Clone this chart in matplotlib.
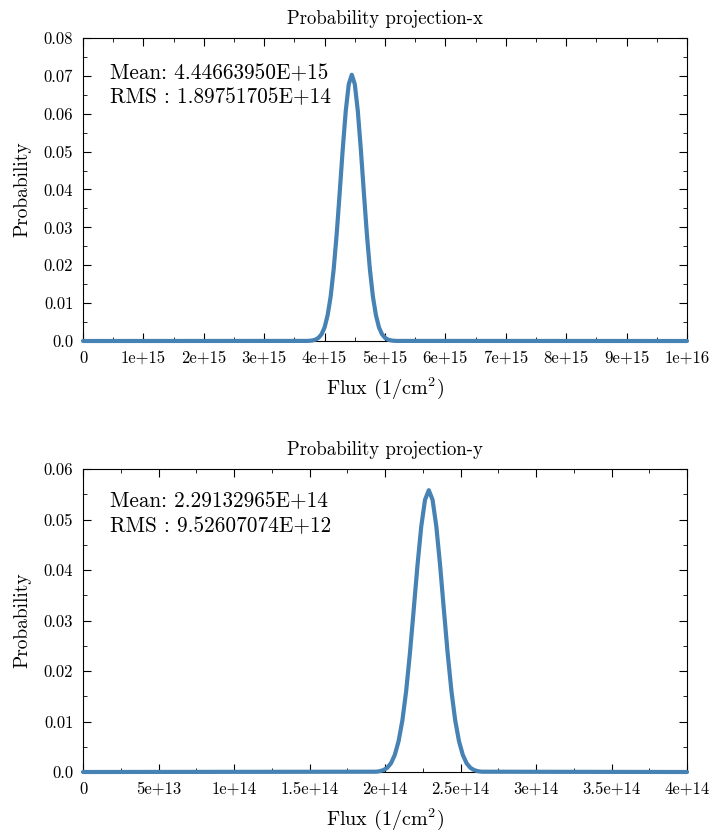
#!/usr/bin/env python
# coding: utf-8

import numpy as np
import matplotlib
matplotlib.use('Agg')
import matplotlib.pyplot as plt
from matplotlib.ticker import MultipleLocator

plt.rcParams['font.family'] = 'serif'
plt.rcParams['font.serif'] = ['cmr10']
plt.rcParams['mathtext.fontset'] = 'cm'
plt.rcParams['axes.formatter.use_mathtext'] = True
plt.rcParams['axes.unicode_minus'] = False

#%% data

# projection-x (flux in units of 1e15)
flux_x = [0.0, 3.70, 3.75, 3.80, 3.85, 3.90, 3.95, 4.00, 4.05, 4.10, 4.15, 4.20,
          4.25, 4.30, 4.35, 4.40, 4.45, 4.50, 4.55, 4.60, 4.65, 4.70, 4.75,
          4.80, 4.85, 4.90, 4.95, 5.00, 5.05, 5.10, 5.15, 5.20, 10.0]
prob_x = [0.0, 0.00002, 0.00006, 0.00015, 0.00037, 0.00085, 0.0018, 0.0036,
          0.0068, 0.0117, 0.0189, 0.0282, 0.0392, 0.0506, 0.0607, 0.0678,
          0.0703, 0.0678, 0.0607, 0.0506, 0.0392, 0.0282, 0.0189, 0.0117,
          0.0068, 0.0036, 0.0018, 0.00085, 0.00037, 0.00015, 0.00006,
          0.00002, 0.0]

# projection-y (flux in units of 1e12)
flux_y = [0.0, 194.0, 196.5, 199.0, 201.5, 204.0, 206.5, 209.0, 211.5, 214.0,
          216.5, 219.0, 221.5, 224.0, 226.5, 229.0, 231.5, 234.0, 236.5,
          239.0, 241.5, 244.0, 246.5, 249.0, 251.5, 254.0, 256.5, 259.0,
          261.5, 264.0, 400.0]
prob_y = [0.0, 0.00006, 0.00016, 0.00038, 0.00084, 0.00175, 0.0034, 0.0061,
          0.0102, 0.0160, 0.0235, 0.0321, 0.0409, 0.0486, 0.0539, 0.0558,
          0.0539, 0.0486, 0.0409, 0.0321, 0.0235, 0.0160, 0.0102, 0.0061,
          0.0034, 0.00175, 0.00084, 0.00038, 0.00016, 0.00006, 0.0]

xticks_x = [0, 1e15, 2e15, 3e15, 4e15, 5e15, 6e15, 7e15, 8e15, 9e15, 1e16]
xlabels_x = ['0', '1e+15', '2e+15', '3e+15', '4e+15', '5e+15', '6e+15',
             '7e+15', '8e+15', '9e+15', '1e+16']
yticks_x = [0.0, 0.01, 0.02, 0.03, 0.04, 0.05, 0.06, 0.07, 0.08]
ylabels_x = ['0.0', '0.01', '0.02', '0.03', '0.04', '0.05', '0.06', '0.07', '0.08']

xticks_y = [0, 5e13, 1e14, 1.5e14, 2e14, 2.5e14, 3e14, 3.5e14, 4e14]
xlabels_y = ['0', '5e+13', '1e+14', '1.5e+14', '2e+14', '2.5e+14', '3e+14',
             '3.5e+14', '4e+14']
yticks_y = [0.0, 0.01, 0.02, 0.03, 0.04, 0.05, 0.06]
ylabels_y = ['0.0', '0.01', '0.02', '0.03', '0.04', '0.05', '0.06']

mean_x = 'Mean: 4.44663950E+15'
rms_x = 'RMS : 1.89751705E+14'
mean_y = 'Mean: 2.29132965E+14'
rms_y = 'RMS : 9.52607074E+12'

line_color = '#4682b4'

#%% plotting

fig = plt.figure(figsize=(7.16, 8.38), dpi=100)
ax1 = fig.add_axes([83/716, 1-341/838, 604/716, 303/838])
ax2 = fig.add_axes([83/716, 1-772/838, 604/716, 303/838])

panels = [
    (ax1, np.array(flux_x)*1e15, prob_x, xticks_x, xlabels_x, yticks_x, ylabels_x,
     5e14, 0.005, 'Probability projection-x', mean_x, rms_x, 0.884, 0.805),
    (ax2, np.array(flux_y)*1e12, prob_y, xticks_y, xlabels_y, yticks_y, ylabels_y,
     2.5e13, 0.005, 'Probability projection-y', mean_y, rms_y, 0.894, 0.812),
]

for ax, xs, ys, xt, xl, yt, yl, xminor, yminor, title, mtxt, rtxt, ym, yr in panels:
    ax.plot(xs, ys, color=line_color, lw=3.0, solid_capstyle='round',
            solid_joinstyle='round', clip_on=False, zorder=3)
    ax.set_xlim(xt[0], xt[-1])
    ax.set_ylim(yt[0], yt[-1])
    ax.set_xticks(xt)
    ax.set_xticklabels(xl, fontsize=12)
    ax.set_yticks(yt)
    ax.set_yticklabels(yl, fontsize=12)
    ax.xaxis.set_minor_locator(MultipleLocator(xminor))
    ax.yaxis.set_minor_locator(MultipleLocator(yminor))
    ax.tick_params(which='both', direction='in', top=True, right=True)
    ax.tick_params(which='major', length=6, width=0.8, pad=7)
    ax.tick_params(which='minor', length=3, width=0.6)
    ax.set_title(title, fontsize=13.5, pad=10)
    ax.set_xlabel('Flux (1/cm$^2$)', fontsize=14.5, labelpad=7)
    ax.set_ylabel('Probability', fontsize=14, labelpad=9)
    ax.text(0.045, ym, mtxt, transform=ax.transAxes, fontsize=15.3,
            va='center', ha='left')
    ax.text(0.045, yr, rtxt, transform=ax.transAxes, fontsize=15.3,
            va='center', ha='left')

fig.savefig('out.png', dpi=100)
